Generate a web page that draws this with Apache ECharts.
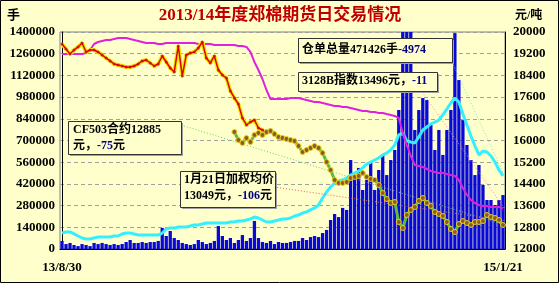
<!DOCTYPE html>
<html><head><meta charset="utf-8">
<script src="https://cdn.jsdelivr.net/npm/echarts@6/dist/echarts.min.js"></script>
<style>html,body{margin:0;padding:0;background:#FFFFCC}#c{width:559px;height:283px}</style>
</head><body><div id="c"></div><script>
const tickLabels = ['13/8/30', '15/1/21'];
// daily volume (手), left axis
const volume = [52000,32000,39000,26000,19000,32000,26000,19000,39000,32000,39000,32000,26000,32000,26000,32000,45000,58000,39000,39000,45000,39000,45000,45000,52000,136000,84000,116000,71000,58000,39000,32000,26000,32000,58000,45000,32000,39000,52000,148000,84000,58000,71000,39000,58000,90000,52000,71000,181000,71000,45000,39000,52000,32000,45000,39000,39000,45000,52000,52000,71000,58000,77000,84000,77000,103000,123000,187000,226000,206000,265000,252000,574000,477000,523000,381000,445000,561000,381000,510000,607000,477000,574000,639000,897000,1400000,1400000,1400000,768000,897000,974000,961000,800000,639000,768000,607000,768000,897000,1393000,1090000,832000,671000,574000,477000,542000,413000,316000,316000,284000,316000,348000];
// warehouse receipts (手), left axis
const receipts = [103000,110000,110000,97000,84000,71000,65000,65000,71000,77000,77000,77000,77000,84000,84000,97000,103000,103000,97000,90000,90000,90000,90000,90000,90000,103000,129000,135000,135000,142000,142000,142000,148000,155000,155000,161000,168000,168000,168000,168000,168000,168000,174000,174000,181000,181000,187000,194000,206000,200000,187000,174000,174000,181000,187000,194000,194000,200000,213000,219000,232000,239000,252000,265000,284000,329000,368000,400000,426000,439000,445000,458000,477000,490000,503000,523000,548000,561000,574000,587000,607000,619000,639000,671000,736000,748000,697000,690000,684000,723000,768000,787000,807000,819000,832000,865000,903000,942000,974000,948000,871000,800000,729000,665000,607000,632000,626000,600000,561000,510000,471426];
// 3128B index (元/吨), right axis
const index3128 = [19190,19190,19190,19190,19190,19190,19227,19337,19558,19632,19669,19706,19706,19743,19780,19780,19780,19743,19706,19669,19632,19595,19595,19595,19558,19558,19595,19595,19595,19595,19595,19595,19595,19595,19558,19558,19558,19558,19521,19521,19521,19521,19521,19521,19485,19485,19448,19263,18895,18600,18268,17862,17531,17531,17531,17531,17531,17567,17567,17567,17531,17494,17457,17420,17420,17383,17346,17309,17272,17272,17235,17235,17199,17162,17125,17088,17088,17051,17051,17014,17014,16977,16941,16904,16830,16277,15834,15429,15097,15060,15023,14950,14876,14839,14802,14802,14765,14728,14692,14544,14249,13991,13807,13696,13622,13585,13585,13549,13549,13549,13496];
// futures price (元/吨), right axis: old main contract to slot 53, new one after
const price = [19558,19374,19190,19337,19448,19595,19263,19337,19337,19263,19153,19042,18932,18821,18784,18747,18710,18710,18747,18821,18932,18968,18858,18747,18821,19116,18895,18673,18526,19485,18379,19153,19227,19263,19411,19632,19042,18858,19116,18600,18415,18305,17825,17567,17346,16830,16572,16682,16756,16461,16388,16277,16388,16240,16129,16093,16056,16019,15982,15798,15576,15650,15724,15798,15724,15540,15208,14913,14544,14433,14433,14470,14618,14655,14692,14802,14655,14581,14544,14360,14065,13844,13696,13733,12995,12774,13254,13438,13549,13770,13880,13696,13585,13364,13290,13217,12995,12737,12627,12922,13032,12959,12885,12995,12995,13032,13254,13180,13143,13069,12885];
const earlyEnd = 53;
// new contract during the overlap, slots 43..53
const nextStart = 43;
const nextOverlap = [16314,16019,15908,16093,15945,16203,16277,16203,16314,16351,16240];
// leader lines from the note boxes to the latest values: [slot, value]
const leaderCF = [[29.7, 16572], [110.4, 12885]];
const leaderAvg = [[52.9, 14286], [110.4, 13049]];
const leaderIdx = [[89.8, 17788], [110.4, 13496]];
const leaderRcpt = [[97.3, 1206000], [110.4, 471426]];

const N = price.length;
const cats = price.map((_, i) => i === 0 ? tickLabels[0] : (i === N - 1 ? tickLabels[1] : ''));
const priceEarly = price.map((v, i) => i <= earlyEnd ? v : null);
const priceLate = price.map((v, i) => i < nextStart ? null : (i <= earlyEnd ? nextOverlap[i - nextStart] : v));

const FONT = '"Liberation Serif","Noto Sans CJK SC",serif';
const axisLab = {color: '#000', fontFamily: FONT, fontWeight: 'bold', fontSize: 13, formatter: v => String(v)};
const chart = echarts.init(document.getElementById('c'), null, {renderer: 'canvas'});

function box(x, y, w, h) {
  return [
    {type: 'rect', shape: {x: x + 2, y: y + 2, width: w, height: h}, style: {fill: '#A0A0A0'}, z: 100},
    {type: 'rect', shape: {x: x + 0.5, y: y + 0.5, width: w, height: h}, style: {fill: '#FFFFCC', stroke: '#333', lineWidth: 1}, z: 101}
  ];
}
const richA = {fill: '#000', fontFamily: FONT, fontWeight: 'bold', fontSize: 12};
const richB = {fill: '#000080', fontFamily: FONT, fontWeight: 'bold', fontSize: 12};
function note(x, y, text, lh) {
  return {type: 'text', x: x, y: y, z: 102, style: {text: text, lineHeight: lh,
    rich: {a: Object.assign({lineHeight: lh}, richA), b: Object.assign({lineHeight: lh}, richB)},
    align: 'left', verticalAlign: 'top', textAlign: 'left', textVerticalAlign: 'top'}};
}
const dotted0 = (d, c) => ({type: 'line', xAxisIndex: 1, yAxisIndex: 0, data: d, symbol: 'none', lineStyle: {color: c, width: 1, type: [1, 2]}, z: 4});
const dotted1 = (d, c) => ({type: 'line', xAxisIndex: 1, yAxisIndex: 1, data: d, symbol: 'none', lineStyle: {color: c, width: 1, type: [1, 2]}, z: 4});

chart.setOption({
  animation: false,
  backgroundColor: '#FFFFCC',
  grid: {left: 60, right: 54, top: 32, bottom: 34, show: true, borderColor: '#808080', borderWidth: 1},
  xAxis: [
    {type: 'category', data: cats, boundaryGap: true,
      axisLine: {lineStyle: {color: '#000'}}, axisTick: {show: false},
      axisLabel: Object.assign({}, axisLab, {interval: 0, margin: 12, formatter: v => v}), splitLine: {show: false}},
    {type: 'value', min: -0.5, max: N - 0.5, show: false}
  ],
  yAxis: [
    {type: 'value', min: 0, max: 1400000, interval: 140000,
      axisLine: {show: true, lineStyle: {color: '#000'}}, axisTick: {show: false},
      splitLine: {show: true, lineStyle: {color: '#A0A0A0', type: [4, 3]}},
      axisLabel: Object.assign({margin: 5}, axisLab)},
    {type: 'value', min: 12000, max: 20000, interval: 800, position: 'right',
      axisLine: {show: true, lineStyle: {color: '#000'}}, axisTick: {show: false},
      splitLine: {show: false}, axisLabel: Object.assign({margin: 8}, axisLab)}
  ],
  series: [
    {type: 'bar', data: volume, yAxisIndex: 0, barCategoryGap: '18%', itemStyle: {color: '#0808D8'}, z: 1},
    {type: 'line', data: receipts, yAxisIndex: 0, symbol: 'none', lineStyle: {color: '#33F0FF', width: 3}, z: 3},
    {type: 'line', data: index3128, yAxisIndex: 1, symbol: 'none', lineStyle: {color: '#E020E0', width: 2}, z: 3},
    dotted1(leaderCF, '#70CC70'),
    dotted1(leaderAvg, '#E06060'),
    dotted1(leaderIdx, '#FF80C0'),
    dotted0(leaderRcpt, '#80E0D0'),
    {type: 'line', data: priceEarly, yAxisIndex: 1, symbol: 'circle', symbolSize: 3, showSymbol: true,
      itemStyle: {color: '#B04020'}, lineStyle: {color: '#F5E800', width: 4}, z: 5},
    {type: 'line', data: priceEarly, yAxisIndex: 1, symbol: 'none', lineStyle: {color: '#E00000', width: 1.5}, z: 6},
    {type: 'line', data: priceLate, yAxisIndex: 1, symbol: 'circle', symbolSize: 5, showSymbol: true,
      itemStyle: {color: '#8B5A2B', borderColor: '#E8D020', borderWidth: 1},
      lineStyle: {color: '#58C038', width: 3}, z: 7}
  ],
  graphic: [
    {type: 'rect', shape: {x: 0.5, y: 0.5, width: 558, height: 282}, style: {fill: 'none', stroke: '#000', lineWidth: 1}, z: 50},
    {type: 'text', x: 280, y: 16, z: 50, style: {text: '2013/14年度郑棉期货日交易情况', fill: '#C00000',
      font: 'bold 17px ' + FONT, align: 'center', verticalAlign: 'middle', textAlign: 'center', textVerticalAlign: 'middle'}},
    {type: 'text', x: 7, y: 16, z: 50, style: {text: '手', fill: '#000', font: 'bold 13px ' + FONT,
      align: 'left', verticalAlign: 'middle', textAlign: 'left', textVerticalAlign: 'middle'}},
    {type: 'text', x: 515, y: 16, z: 50, style: {text: '元/吨', fill: '#000', font: 'bold 12px ' + FONT,
      align: 'left', verticalAlign: 'middle', textAlign: 'left', textVerticalAlign: 'middle'}},
    ...box(68, 121, 113, 33),
    note(73, 122, '{a|CF503合约12885}\n{a|元，}{b|-75}{a|元}', 16),
    ...box(180, 171, 95, 36),
    note(184, 172, '{a|1月21日加权均价}\n{a|13049元，}{b|-106}{a|元}', 16),
    ...box(298, 38, 154, 24),
    note(302, 42, '{a|仓单总量471426手}{b|-4974}', 16),
    ...box(298, 72, 139, 19),
    note(302, 73, '{a|3128B指数13496元，}{b|-11}', 16)
  ]
});
</script></body></html>
